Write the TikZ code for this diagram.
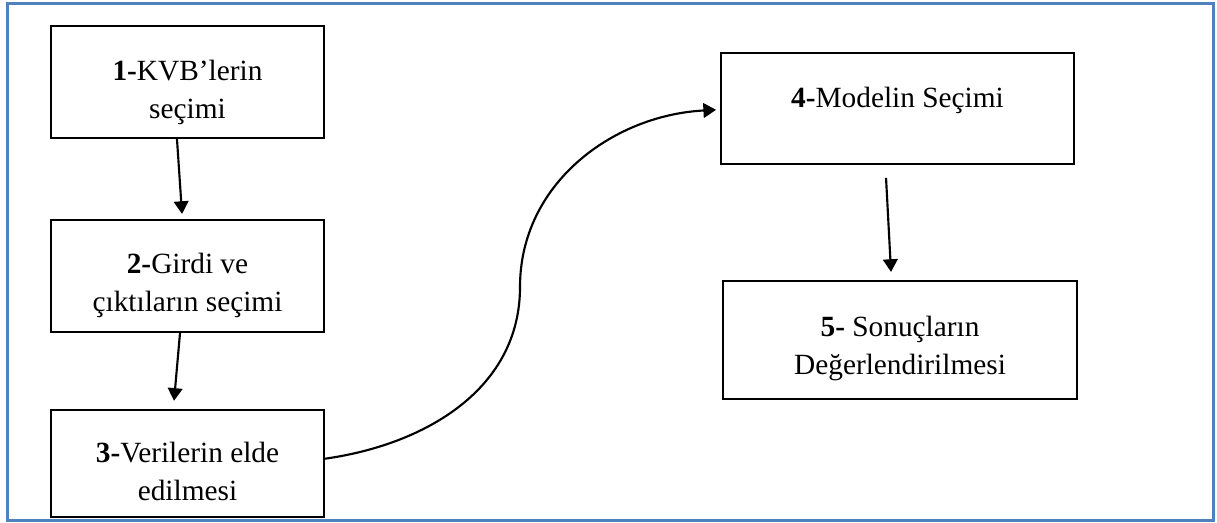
\documentclass[tikz,border=0pt]{standalone}
\usepackage{fontspec}
\setmainfont{Liberation Serif}
\usetikzlibrary{arrows.meta, positioning}
\definecolor{framecolor}{RGB}{79,129,189}

\begin{document}
\begin{tikzpicture}[
            x=0.75pt, y=-0.75pt,
            stage/.style={draw, line width=1.4pt, align=center, inner sep=0pt,
                font=\fontsize{22}{28.5}\selectfont, text height=15pt, text depth=17pt},
            twoline/.style={text height=60pt, text depth=6pt},
            link/.style={line width=1.6pt, -{Triangle[length=9.5pt, width=11pt]}},
            node distance=60pt
        ]
            \useasboundingbox (0,0) rectangle (1217,522);
            \draw[framecolor, line width=2.25pt] (7,3) rectangle (1213,520);

            % Left column
            \node[stage, twoline, minimum width=204.75pt, minimum height=84pt] (s1) at (187.5,82) {\textbf{1-}KVB’lerin\\seçimi};
            \node[stage, twoline, minimum width=204.75pt, minimum height=84pt, below=60pt of s1] (s2) {\textbf{2-}Girdi ve\\çıktıların seçimi};
            \node[stage, twoline, text height=62.25pt, minimum width=204.75pt, minimum height=80.25pt, below=57pt of s2] (s3) {\textbf{3-}Verilerin elde\\edilmesi};

            % Right column
            \node[stage, minimum width=264.75pt, minimum height=83.25pt] (s4) at (897.5,108.5) {\textbf{4-}Modelin Seçimi};
            \node[stage, twoline, text height=58.5pt, minimum width=265.5pt, minimum height=88.5pt, below=86.25pt of s4, xshift=1.9pt] (s5) {\textbf{5-} Sonuçların\\Değerlendirilmesi};

            % Arrows
            \draw[link] ([xshift=-7.9pt]s1.south) -- ([xshift=-4.1pt, yshift=3.75pt]s2.north);
            \draw[link] ([xshift=-5.6pt]s2.south) -- ([xshift=-10.1pt, yshift=6pt]s3.north);
            \draw[link] ([xshift=-8.6pt, yshift=-9.75pt]s4.south) -- ([xshift=-6.75pt, yshift=6pt]s5.north);

            % Curved link between columns
            \coordinate (bend) at (520,287);
            \draw[link] ([yshift=3.4pt]s3.east) to[out=8, in=-90] (bend) to[out=90, in=183] ([xshift=-3pt, yshift=-1pt]s4.west);

        \end{tikzpicture}
\end{document}
